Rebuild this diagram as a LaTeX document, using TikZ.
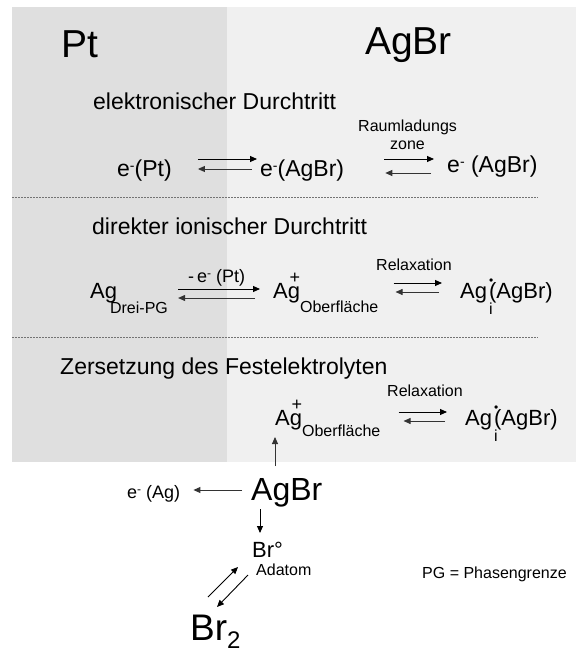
\documentclass[tikz,border=0pt]{standalone}
\usepackage{fontspec}
\setmainfont{Liberation Sans}
\usetikzlibrary{arrows.meta, positioning}

\definecolor{ptgray}{HTML}{DFDFDF}
\definecolor{agbrgray}{HTML}{F0F0F0}

\newcommand{\fs}[1]{\fontsize{#1}{#1}\selectfont}
\newcommand{\elsup}{\raisebox{6pt}{\fs{14}-}}
\newcommand{\agplus}[2]{Ag\makebox[0pt][r]{\raisebox{15pt}{\fs{18}+}}\raisebox{-#2}{\fs{16}#1}}
\newcommand{\aginter}{Ag\makebox[0pt][l]{\kern2pt\raisebox{14pt}{\fs{12}•}}\makebox[0pt][l]{\kern2pt\raisebox{-16pt}{\fs{16}i}}\kern2pt(AgBr)}

\begin{document}
\begin{tikzpicture}[x=1pt, y=-1pt,
    head/.style={font=\fs{39}, anchor=base west, inner sep=0pt},
    title/.style={font=\fs{23}, anchor=base west, inner sep=0pt},
    spec/.style={font=\fs{22}, anchor=base west, inner sep=0pt},
    lbl/.style={font=\fs{16}, anchor=base west, inner sep=0pt},
    fwd/.style={-{Triangle[length=7pt,width=6pt]}, line width=0.9pt},
    bwd/.style={fwd, black!80},
    sep/.style={black!55, line width=0.6pt, dash pattern=on 2pt off 1pt}]
  \useasboundingbox (0,0) rectangle (576,652);
  \fill[white] (0,0) rectangle (576,652);
  \fill[ptgray] (12,7) rectangle (227,462);
  \fill[agbrgray] (227,7) rectangle (576,462);

  % Phasen
  \node[head] (pt) at (61,58) {Pt};
  \node[head] (agbrhead) at (365,55) {AgBr};

  % elektronischer Durchtritt
  \node[title] (t1) at (93,110) {elektronischer Durchtritt};
  \node[spec, font=\fs{23}] (ePt) at (117,177) {e\elsup(Pt)};
  \node[spec, font=\fs{23}] (eAg1) at (260,177) {e\elsup(AgBr)};
  \node[spec, font=\fs{23}] (eAg2) at (447,173) {e\elsup\ (AgBr)};
  \node[lbl] (rlz) at (358,132) {Raumladungs};
  \node[lbl] (zone) at (390,150) {zone};
  \draw[fwd] ([shift={(26,-18)}]ePt.base east) -- ([shift={(-3,-18)}]eAg1.base west);
  \draw[bwd] ([shift={(-8,-8)}]eAg1.base west) -- ([shift={(26,-8)}]ePt.base east);
  \draw[fwd] ([shift={(40,-18)}]eAg1.base east) -- ([shift={(-13,-14)}]eAg2.base west);
  \draw[bwd] ([shift={(-16,0)}]eAg2.base west) -- ([shift={(41,-4)}]eAg1.base east);

  \draw[sep] (12,197) -- (538,197);

  % direkter ionischer Durchtritt
  \node[title] (t2) at (92,234) {direkter ionischer Durchtritt};
  \node[spec] (agPG) at (90,298) {Ag\kern-7pt\raisebox{-15pt}{\fs{16}Drei-PG}};
  \node[spec] (agS2) at (273,298) {\agplus{Oberfläche}{14pt}};
  \node[spec] (agI2) at (460,298) {\aginter};
  \node[lbl, font=\fs{18}] (ePtlbl) at (188,282) {-\,e\raisebox{5pt}{\fs{12}-} (Pt)};
  \node[lbl] (relax2) at (376,270) {Relaxation};
  \draw[fwd] ([shift={(10,-9)}]agPG.base east) -- ([shift={(-13,-9)}]agS2.base west);
  \draw[bwd] ([shift={(-18,0)}]agS2.base west) -- ([shift={(10,0)}]agPG.base east);
  \draw[fwd] ([shift={(15,-15)}]agS2.base east) -- ([shift={(-18,-15)}]agI2.base west);
  \draw[bwd] ([shift={(-21,-6)}]agI2.base west) -- ([shift={(17,-6)}]agS2.base east);

  \draw[sep] (12,337) -- (538,337);

  % Zersetzung des Festelektrolyten
  \node[title] (t3) at (60,374) {Zersetzung des Festelektrolyten};
  \node[spec] (agS3) at (275,425) {\agplus{Oberfläche}{11pt}};
  \node[spec] (agI3) at (465,425) {\aginter};
  \node[lbl] (relax3) at (387,396) {Relaxation};
  \draw[fwd] ([shift={(18,-13)}]agS3.base east) -- ([shift={(-18,-13)}]agI3.base west);
  \draw[bwd] ([shift={(-20,-4)}]agI3.base west) -- ([shift={(23,-4)}]agS3.base east);

  \node[spec, font=\fs{32}] (agbr) at (251,500) {AgBr};
  \node[lbl, font=\fs{18}] (eAg3) at (127,498) {e\raisebox{5pt}{\fs{12}-} (Ag)};
  \node[spec] (brad) at (252,557) {Br°};
  \node[lbl] (adatom) at (256,575) {Adatom};
  \node[spec, font=\fs{37}] (br2) at (190,640) {Br\raisebox{-8pt}{\fs{24}2}};
  \node[lbl] (pg) at (422,578) {PG = Phasengrenze};

  \draw[bwd] ([shift={(24,-34)}]agbr.base west) -- ([shift={(0,12)}]agS3.base west);
  \draw[bwd] ([shift={(-9,-10)}]agbr.base west) -- ([shift={(13,-8)}]eAg3.base east);
  \draw[fwd] ([shift={(9,9)}]agbr.base west) -- ([shift={(8,-24)}]brad.base west);
  \draw[fwd] ([shift={(18,-43)}]br2.base west) -- ([shift={(-14,10)}]brad.base west);
  \draw[fwd] ([shift={(-4,18)}]brad.base west) -- ([shift={(27,-33)}]br2.base west);
\end{tikzpicture}
\end{document}
